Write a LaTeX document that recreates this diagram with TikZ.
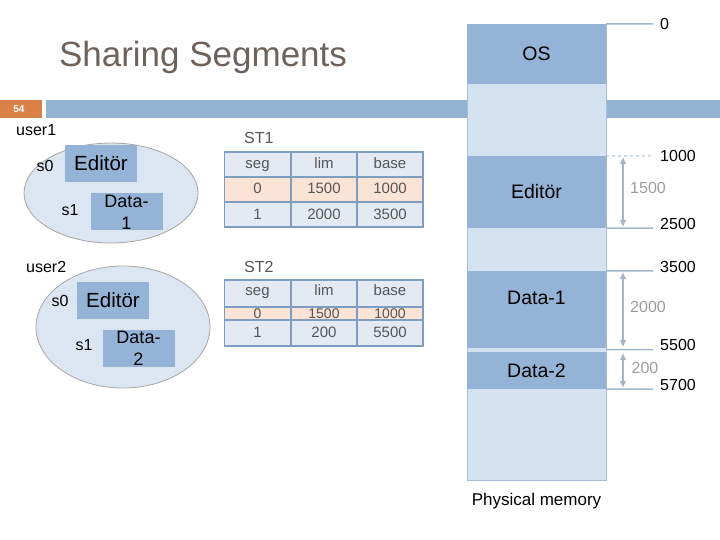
\documentclass[tikz,border=0pt]{standalone}
\usepackage{fontspec}
\setmainfont{Liberation Sans}
\usetikzlibrary{positioning, arrows.meta, shapes.geometric}
\definecolor{titlegray}{HTML}{6E625B}
\definecolor{slideorange}{HTML}{DA8148}
\definecolor{barblue}{HTML}{94B3D1}
\definecolor{blockdark}{HTML}{95B3D7}
\definecolor{blocklight}{HTML}{D5E2EF}
\definecolor{blockline}{HTML}{A9BDD4}
\definecolor{ellfill}{HTML}{DCE6F2}
\definecolor{tblblue}{HTML}{E3EAF4}
\definecolor{tblorange}{HTML}{FBE4D6}
\definecolor{tblline}{HTML}{7E9EC0}
\definecolor{tbltext}{HTML}{555555}
\definecolor{dimline}{HTML}{A2B6CC}
\definecolor{dimtext}{HTML}{9C9C9C}

\begin{document}
\begin{tikzpicture}[x=1pt, y=-1pt, inner sep=0pt,
    f16/.style={font=\fontsize{16}{19}\selectfont},
    memdark/.style={fill=blockdark, minimum width=139, font=\fontsize{19.5}{22}\selectfont},
    segbox/.style={fill=blockdark, minimum width=72, minimum height=37, align=center, font=\fontsize{18}{22}\selectfont},
    user/.style={ellipse, draw=black!35, line width=0.8pt, fill=ellfill, minimum width=174},
    cell/.style={draw=tblline, line width=1.2pt, minimum width=66, text height=11pt, text depth=2pt, text=tbltext, font=\fontsize{15}{15}\selectfont},
    tick/.style={dimline, line width=1.5pt},
    ticklabel/.style={anchor=west, xshift=7pt, f16},
    dim/.style={dimline, line width=2.5pt, {Latex[length=7pt,width=7pt]}-{Latex[length=7pt,width=7pt]}},
    dimlabel/.style={dimtext, f16}]
\useasboundingbox (0,0) rectangle (720,540);

\node[text=titlegray, font=\fontsize{35}{40}\selectfont] (title) at (203,57) {Sharing Segments};
\fill[slideorange] (0,100) rectangle (42,118);
\node[text=white, font=\fontsize{10}{12}\selectfont\bfseries] (page) at (19,109) {54};
\fill[barblue] (46,100) rectangle (720,118);

% users
\node[user, minimum height=100] (u1) at (111,193) {};
\node[f16, anchor=west] (u1lbl) at (16,130) {user1};
\node[segbox, font=\fontsize{20.5}{22}\selectfont] (ed1) at (101,163.5) {Editör};
\node[segbox] (da1) at (126.5,212) {Data-\\1};
\node[f16] (s01) at (45,166) {s0};
\node[f16] (s11) at (70,210) {s1};

\node[user, minimum height=122] (u2) at (123,327) {};
\node[f16, anchor=west] (u2lbl) at (26,267) {user2};
\node[segbox, font=\fontsize{20.5}{22}\selectfont] (ed2) at (113,300.5) {Editör};
\node[segbox] (da2) at (138.5,348.5) {Data-\\2};
\node[f16] (s02) at (60,301) {s0};
\node[f16] (s12) at (84,345) {s1};

% segment tables
\node[f16, text=tbltext, anchor=west] (st1) at (244,138) {ST1};
\foreach \col/\x/\a/\b/\c in {0/257.5/seg/0/1, 1/324/lim/1500/2000, 2/390/base/1000/3500} {
  \node[cell, fill=tblblue, minimum height=25] (t1h\col) at (\x,164.5) {\a};
  \node[cell, fill=tblorange, minimum height=25] (t1a\col) at (\x,189.5) {\b};
  \node[cell, fill=tblblue, minimum height=25] (t1b\col) at (\x,214.5) {\c};
}
\node[f16, text=tbltext, anchor=west] (st2) at (244,267) {ST2};
\foreach \col/\x/\a/\b/\c in {0/257.5/seg/0/1, 1/324/lim/1500/200, 2/390/base/1000/5500} {
  \node[cell, fill=tblblue, minimum height=27, text depth=7pt] (t2h\col) at (\x,293.5) {\a};
  \node[cell, fill=tblorange, minimum height=13, text height=10pt, text depth=0pt, font=\fontsize{14}{14}\selectfont] (t2a\col) at (\x,313.5) {\b};
  \node[cell, fill=tblblue, minimum height=26] (t2b\col) at (\x,333) {\c};
}

% physical memory
\node[fill=blocklight, draw=blockline, line width=0.8pt, minimum width=139, minimum height=456] (mem) at (536.5,252) {};
\node[memdark, minimum height=60] (os) at (536.5,54) {OS};
\node[memdark, minimum height=72] (edm) at (536.5,192) {Editör};
\node[memdark, minimum height=77] (d1m) at (536.5,309.5) {};
\node[font=\fontsize{19.5}{22}\selectfont] (d1txt) at ([yshift=12]d1m.center) {Data-1};
\node[memdark, minimum height=37] (d2m) at (536.5,370.5) {Data-2};
\node[font=\fontsize{17}{20}\selectfont, below=13pt of mem] (phys) {Physical memory};

\coordinate (c0) at (653,24);
\coordinate (c1000) at (653,156);
\coordinate (c2500) at (653,228);
\coordinate (c3500) at (653,271);
\coordinate (c5500) at (653,349.5);
\coordinate (c5700) at (653,389);
\draw[tick] (os.north east) -- (c0);
\draw[tick, dashed, line width=1pt] (edm.north east) -- (c1000);
\draw[tick] (edm.south east) -- (c2500);
\draw[tick] (d1m.north east) -- (c3500);
\draw[tick] ([yshift=-1.5]d1m.south east) -- (c5500);
\draw[tick] (d2m.south east) -- (c5700);
\node[ticklabel] (l0) at (c0) {0};
\node[ticklabel] (l1000) at (c1000) {1000};
\node[ticklabel, yshift=4pt] (l2500) at (c2500) {2500};
\node[ticklabel, yshift=4pt] (l3500) at (c3500) {3500};
\node[ticklabel, yshift=5pt] (l5500) at (c5500) {5500};
\node[ticklabel, yshift=4pt] (l5700) at (c5700) {5700};

\coordinate (a1) at (623,157);
\coordinate (b1) at (623,227);
\coordinate (a2) at (623,272);
\coordinate (b2) at (623,347);
\coordinate (a3) at (623,353);
\coordinate (b3) at (623,388);
\draw[dim] (a1) -- (b1);
\draw[dim] (a2) -- (b2);
\draw[dim] (a3) -- (b3);
\node[dimlabel] (w1) at (648,188) {1500};
\node[dimlabel] (w2) at (648,307) {2000};
\node[dimlabel] (w3) at (645,368) {200};
\end{tikzpicture}
\end{document}
